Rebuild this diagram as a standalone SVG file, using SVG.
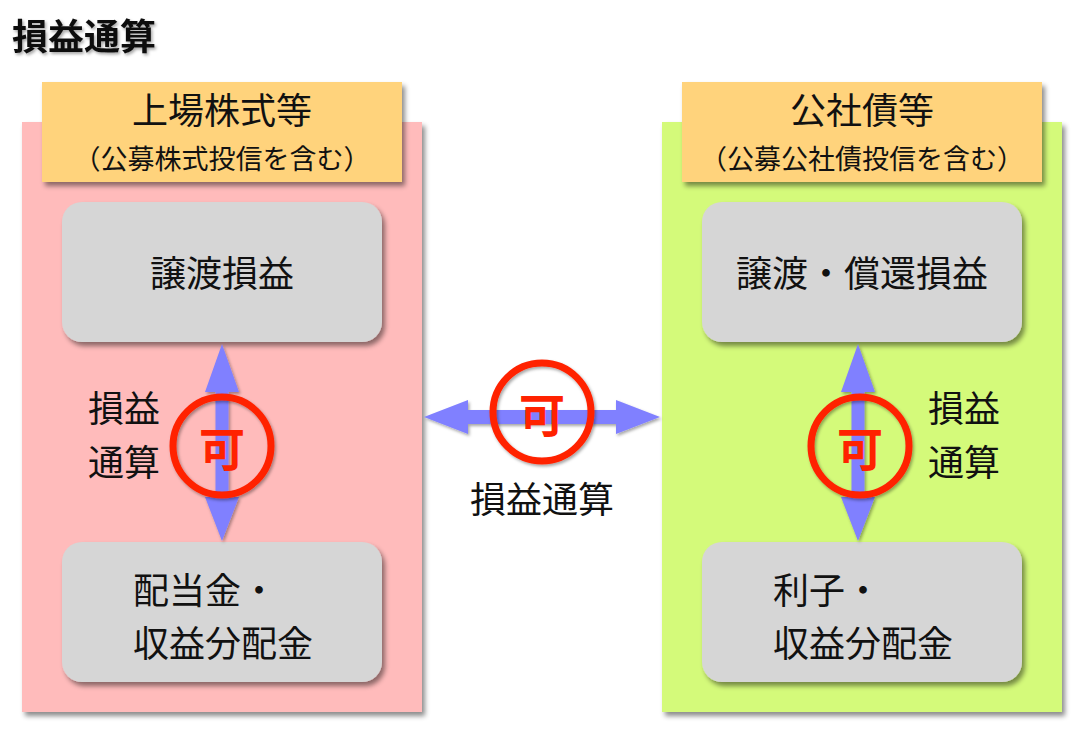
<svg xmlns="http://www.w3.org/2000/svg" width="1080" height="740" viewBox="0 0 1080 740">
<defs>
<filter id="sh" x="-10%" y="-10%" width="130%" height="130%">
<feDropShadow dx="3" dy="4" stdDeviation="2.5" flood-color="#000" flood-opacity="0.45"/>
</filter>
<filter id="tsh" x="-10%" y="-20%" width="130%" height="150%">
<feDropShadow dx="1.5" dy="2" stdDeviation="1.5" flood-color="#000" flood-opacity="0.35"/>
</filter>
<style>
text{font-family:"Noto Sans CJK JP","Noto Sans CJK SC",sans-serif;fill:#111;}
.t{font-size:36px;}
.s{font-size:27px;}
.ka{font-size:46px;font-weight:bold;fill:#FF2200;}
.hdr{fill:#FFD37C;}
.box{fill:#D6D6D6;}
.arr{fill:#8080FF;}
.ring{fill:none;stroke:#FF2200;stroke-width:7;}
</style>
</defs>
<rect width="1080" height="740" fill="#fff"/>
<text x="12" y="50" style="font-size:36px;font-weight:bold" filter="url(#tsh)">損益通算</text>

<g id="panel-left">
<rect x="22" y="122" width="400" height="590" fill="#FFBBBB" filter="url(#sh)"/>
</g>
<g id="panel-right">
<rect x="662" y="122" width="400" height="590" fill="#D4FA7A" filter="url(#sh)"/>
</g>

<g id="header-left">
<rect class="hdr" x="42" y="82" width="360" height="100" filter="url(#sh)"/>
<text class="t" x="222" y="124" text-anchor="middle">上場株式等</text>
<text class="s" x="222" y="169" text-anchor="middle">（公募株式投信を含む）</text>
</g>
<g id="header-right">
<rect class="hdr" x="682" y="82" width="360" height="100" filter="url(#sh)"/>
<text class="t" x="862" y="124" text-anchor="middle">公社債等</text>
<text class="s" x="862" y="169" text-anchor="middle">（公募公社債投信を含む）</text>
</g>

<g id="box-left-top">
<rect class="box" x="62" y="202" width="320" height="140" rx="20" filter="url(#sh)"/>
<text class="t" x="222" y="287" text-anchor="middle">譲渡損益</text>
</g>
<g id="box-left-bottom">
<rect class="box" x="62" y="542" width="320" height="140" rx="20" filter="url(#sh)"/>
<text class="t" x="133" y="604">配当金・</text>
<text class="t" x="133" y="657">収益分配金</text>
</g>
<g id="box-right-top">
<rect class="box" x="702" y="202" width="320" height="140" rx="20" filter="url(#sh)"/>
<text class="t" x="862" y="287" text-anchor="middle">譲渡・償還損益</text>
</g>
<g id="box-right-bottom">
<rect class="box" x="702" y="542" width="320" height="140" rx="20" filter="url(#sh)"/>
<text class="t" x="773" y="604">利子・</text>
<text class="t" x="773" y="657">収益分配金</text>
</g>

<g id="connectors">
<path class="arr" filter="url(#tsh)" d="M222,344 L239,392 L228.5,392 L228.5,497 L239,497 L222,541 L205,497 L215.5,497 L215.5,392 L205,392 Z"/>
<path class="arr" filter="url(#tsh)" d="M858,344 L875,392 L864.5,392 L864.5,497 L875,497 L858,541 L841,497 L851.5,497 L851.5,392 L841,392 Z"/>
<path class="arr" filter="url(#tsh)" d="M424,417 L468,400 L468,410 L616,410 L616,400 L660,417 L616,434 L616,424 L468,424 L468,434 Z"/>
</g>

<g id="label-left">
<circle class="ring" cx="222" cy="446" r="49" filter="url(#tsh)"/>
<text class="ka" x="222" y="466" text-anchor="middle">可</text>
<text class="t" x="88" y="422">損益</text>
<text class="t" x="88" y="476">通算</text>
</g>
<g id="label-center">
<circle class="ring" cx="542" cy="412" r="49" filter="url(#tsh)"/>
<text class="ka" x="542" y="432" text-anchor="middle">可</text>
<text class="t" x="542" y="513" text-anchor="middle">損益通算</text>
</g>
<g id="label-right">
<circle class="ring" cx="860" cy="446" r="49" filter="url(#tsh)"/>
<text class="ka" x="860" y="466" text-anchor="middle">可</text>
<text class="t" x="928" y="422">損益</text>
<text class="t" x="928" y="476">通算</text>
</g>
</svg>
